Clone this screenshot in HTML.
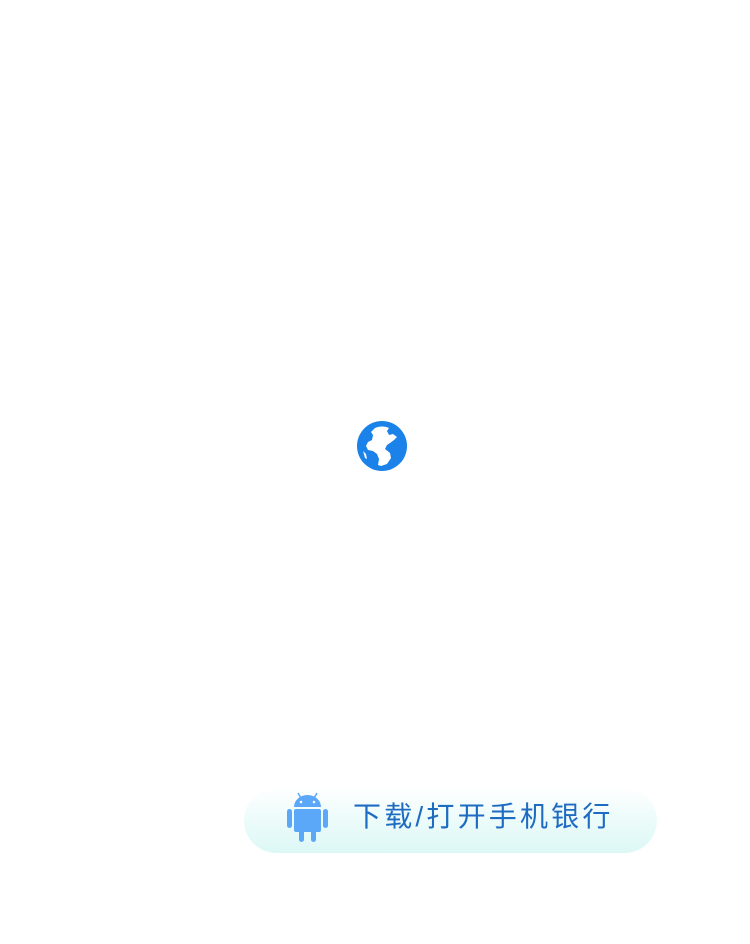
<!DOCTYPE html>
<html><head><meta charset="utf-8"><style>
html,body{margin:0;padding:0;background:#fff;width:750px;height:944px;overflow:hidden;position:relative;font-family:"Liberation Sans","Noto Sans CJK SC",sans-serif}
.btn{position:absolute;left:244px;top:788px;width:413px;height:65px;border-radius:33px;background:linear-gradient(#ffffff 0%,#effcfb 40%,#dcf8f5 100%)}
.txt{position:absolute;left:353px;top:797px;font-size:28px;line-height:40px;color:#1e6cc2;letter-spacing:3.2px;white-space:nowrap}
</style></head><body>
<svg style="position:absolute;left:357px;top:421px" width="50" height="50" viewBox="0 0 50 50">
<circle cx="25" cy="25" r="25" fill="#1a82e8"/>
<path d="M18 7 C22 5 28 5 32 7 L30 10 L32 14 L36 13 L40 16 L37 19 L33 22 L30 24 L28 28 L33 32 L34 37 L30 43 L24 45 L21 44 L22 38 L20 33 L16 30 L11 29 L9 25 L11 21 L15 19 L16 14 L14 11 Z" fill="#fff"/>
<path d="M6 30 L9 33 L10 38 L8 37 Z" fill="#fff"/>
</svg>
<div class="btn"></div>
<svg style="position:absolute;left:287px;top:791px" width="41" height="51" viewBox="0 0 41 51">
<g fill="#5aa8f7">
<path d="M7 16 A13.5 12 0 0 1 34 16 Z"/>
<line x1="11" y1="2" x2="14" y2="7" stroke="#5aa8f7" stroke-width="1.5"/>
<line x1="30" y1="2" x2="27" y2="7" stroke="#5aa8f7" stroke-width="1.5"/>
<rect x="7" y="18" width="27" height="23" rx="2"/>
<rect x="0" y="18" width="5" height="19" rx="2.5"/>
<rect x="36" y="18" width="5" height="19" rx="2.5"/>
<rect x="12" y="36" width="5" height="15" rx="2.5"/>
<rect x="24" y="36" width="5" height="15" rx="2.5"/>
</g>
<circle cx="14" cy="11" r="1.3" fill="#fff"/><circle cx="27" cy="11" r="1.3" fill="#fff"/>
</svg>
<div class="txt">下载/打开手机银行</div>
</body></html>
